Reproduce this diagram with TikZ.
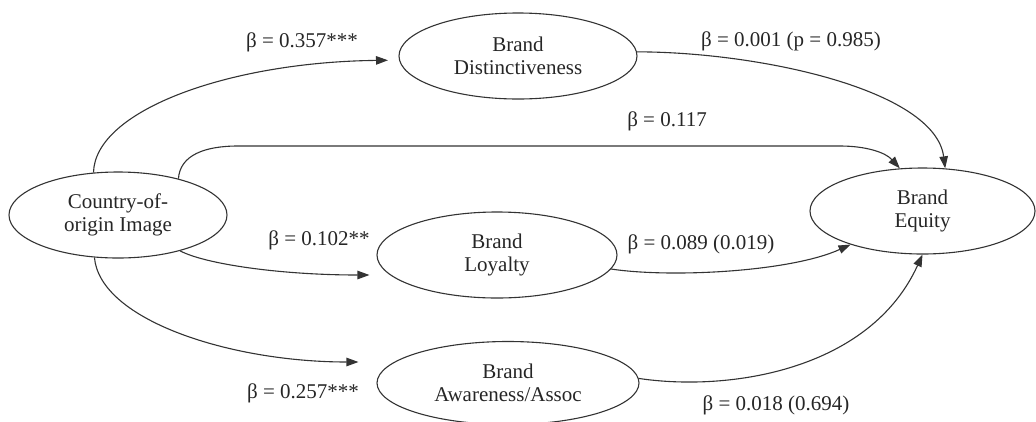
\documentclass[tikz,border=0pt]{standalone}
\usepackage{fontspec}
\setmainfont{Liberation Serif}
\usetikzlibrary{shapes.geometric,arrows.meta,calc}
\begin{document}
\begin{tikzpicture}[x=1pt,y=-1pt,
  every node/.style={font=\fontsize{21}{23}\selectfont, text=black!85},
  construct/.style={ellipse, draw=black!80, line width=1.1pt, inner sep=0pt, align=center},
  path/.style={draw=black!80, line width=1.1pt, -{Triangle[length=12pt,width=8.5pt]}},
  coef/.style={anchor=base, inner sep=0pt}
]
\useasboundingbox (0,0) rectangle (1036,421);
\node[construct, minimum width=218pt, minimum height=86pt] (coo) at (118,215) {Country-of-\\origin Image};
\node[construct, minimum width=238pt, minimum height=86pt] (dis) at (518,56) {Brand\\Distinctiveness};
\node[construct, minimum width=240pt, minimum height=86pt] (loy) at (497,255) {Brand\\Loyalty};
\node[construct, minimum width=262pt, minimum height=83pt] (awa) at (508,383) {Brand\\Awareness/Assoc};
\node[construct, minimum width=225pt, minimum height=86pt] (equ) at (922.5,211) {Brand\\Equity};

\draw[path, shorten >=11pt] (coo.120) .. controls (95,110) and (230,62) .. (dis.182);
\draw[path] (coo.31) .. controls (180,155) and (205,146) .. (238,146) -- (840,146) .. controls (865,146) and (885,152) .. (equ.118);
\draw[path] (dis.2) .. controls (760,52) and (935,90) .. (equ.62);
\draw[path] (coo.-30) .. controls (205,264) and (280,275) .. ($(loy.west)+(-7,20)$);
\draw[path] (coo.241) .. controls (100,320) and (230,362) .. ($(awa.west)+(-18,-21)$);
\draw[path] (loy.-7) .. controls (670,278) and (790,272) .. (equ.205);
\draw[path] (awa.2) .. controls (730,392) and (870,370) .. (equ.south);

\node[coef] (l1) at (302,47) {β = 0.357***};
\node[coef] (l2) at (791,46) {β = 0.001 (p = 0.985)};
\node[coef] (l3) at (667,126) {β = 0.117};
\node[coef] (l4) at (319,245) {β = 0.102**};
\node[coef] (l5) at (701,249) {β = 0.089 (0.019)};
\node[coef] (l6) at (303,398) {β = 0.257***};
\node[coef] (l7) at (776,410) {β = 0.018 (0.694)};
\end{tikzpicture}
\end{document}
